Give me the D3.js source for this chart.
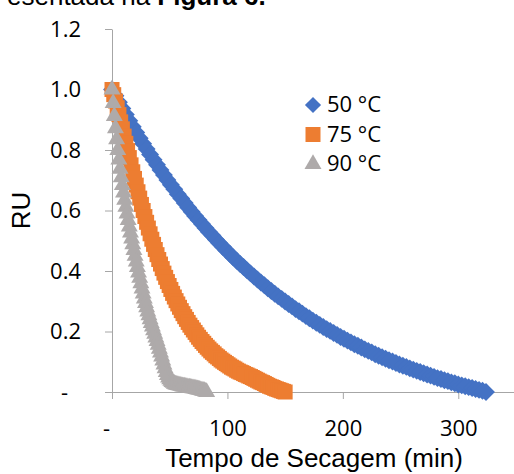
<!DOCTYPE html>
<html>
<head>
<meta charset="utf-8">
<script src="https://cdn.jsdelivr.net/npm/d3@7"></script>
<style>
  body { margin: 0; background: #fff; }
  svg { display: block; }
</style>
</head>
<body>
<svg width="514" height="474"></svg>
<script>
// RU vs drying time
const series = ['50 °C', '75 °C', '90 °C'];
const colors = ['#4472C4', '#ED7D31', '#AEAAAA'];
const steps = [3, 1.5, 1];   // minutes between readings

const ru50 = [
  1.000,0.979,0.958,0.937,0.917,0.897,0.877,0.858,0.839,0.821,
  0.803,0.785,0.768,0.751,0.734,0.717,0.701,0.685,0.670,0.654,
  0.640,0.625,0.610,0.596,0.582,0.569,0.555,0.542,0.529,0.517,
  0.504,0.492,0.480,0.468,0.457,0.445,0.434,0.423,0.413,0.402,
  0.392,0.382,0.372,0.362,0.353,0.343,0.334,0.325,0.316,0.308,
  0.299,0.291,0.283,0.274,0.267,0.259,0.251,0.244,0.236,0.229,
  0.222,0.215,0.208,0.202,0.195,0.189,0.182,0.176,0.170,0.164,
  0.158,0.153,0.147,0.141,0.136,0.131,0.125,0.120,0.115,0.110,
  0.105,0.101,0.096,0.091,0.087,0.083,0.078,0.074,0.070,0.066,
  0.062,0.058,0.054,0.050,0.046,0.043,0.039,0.036,0.032,0.029,
  0.025,0.022,0.019,0.016,0.013,0.010,0.007,0.004,0.000
];
const ru75 = [
  1.000,0.983,0.962,0.940,0.917,0.893,0.870,0.846,0.822,0.798,
  0.775,0.751,0.728,0.706,0.684,0.662,0.641,0.620,0.600,0.580,
  0.561,0.542,0.523,0.505,0.488,0.471,0.454,0.438,0.423,0.408,
  0.393,0.379,0.365,0.352,0.339,0.326,0.314,0.302,0.291,0.280,
  0.269,0.259,0.249,0.240,0.230,0.221,0.213,0.205,0.197,0.189,
  0.181,0.174,0.167,0.161,0.154,0.148,0.142,0.136,0.131,0.126,
  0.120,0.116,0.111,0.106,0.102,0.098,0.094,0.090,0.086,0.082,
  0.079,0.076,0.072,0.069,0.066,0.064,0.061,0.058,0.056,0.053,
  0.051,0.048,0.045,0.042,0.039,0.036,0.033,0.031,0.028,0.025,
  0.022,0.019,0.017,0.015,0.012,0.010,0.008,0.006,0.004,0.002,
  0.000
];
const ru90 = [
  1.000,0.955,0.912,0.872,0.835,0.800,0.768,0.738,0.710,0.684,
  0.659,0.635,0.612,0.590,0.568,0.547,0.527,0.507,0.488,0.469,
  0.450,0.431,0.413,0.395,0.377,0.359,0.342,0.325,0.309,0.294,
  0.280,0.266,0.253,0.240,0.228,0.216,0.204,0.192,0.180,0.168,
  0.156,0.143,0.130,0.117,0.104,0.091,0.078,0.066,0.056,0.048,
  0.042,0.037,0.033,0.030,0.027,0.025,0.024,0.023,0.022,0.021,
  0.020,0.019,0.018,0.018,0.017,0.016,0.015,0.015,0.014,0.013,
  0.012,0.012,0.011,0.010,0.009,0.008,0.007,0.006,0.005,0.004,
  0.003,0.001,0.000
];

const xTicks = [0, 100, 200, 300];
const yTicks = [0, 0.2, 0.4, 0.6, 0.8, 1.0, 1.2];

const svg = d3.select('svg');
const axisColor = '#A6A6A6';
const labelFont = '"Open Sans", sans-serif';
const titleFont = '"Liberation Sans", Arial, sans-serif';

const x = d3.scaleLinear().domain([0, 350]).range([112, 516]);
const y = d3.scaleLinear().domain([0, 1.2]).range([392, 29]);

// cut-off caption line from the page above the chart
const cap = svg.append('text')
  .attr('x', 7).attr('y', 5)
  .style('font-family', titleFont).style('font-size', '26px');
cap.append('tspan').text('esentada na ');
cap.append('tspan').style('font-weight', 'bold').text('Figura 6.');

const fmt = d => d === 0 ? '-' : d3.format('.1f')(d);

const gx = svg.append('g')
  .attr('transform', `translate(0,${y(0)})`)
  .call(d3.axisBottom(x).tickValues(xTicks).tickSize(7).tickSizeOuter(0)
    .tickFormat(d => d === 0 ? '-' : d));
const gy = svg.append('g')
  .attr('transform', `translate(${x(0)},0)`)
  .call(d3.axisLeft(y).tickValues(yTicks).tickSize(7).tickPadding(24).tickSizeOuter(0)
    .tickFormat(fmt));

[gx, gy].forEach(g => {
  g.select('.domain').attr('stroke', axisColor);
  g.selectAll('.tick line').attr('stroke', axisColor);
  g.selectAll('text').attr('fill', '#000')
    .style('font-family', labelFont).style('font-size', '22px');
});
gx.selectAll('.tick text').attr('y', 28).attr('dy', '0.71em')
  .attr('dx', d => d === 0 ? -6 : 0);
gy.selectAll('.tick text').attr('dx', d => d === 0 ? -13 : 0);

// axis titles
svg.append('text')
  .attr('x', (x.range()[0] + x.range()[1]) / 2).attr('y', 467)
  .attr('text-anchor', 'middle')
  .style('font-family', titleFont).style('font-size', '26px')
  .text('Tempo de Secagem (min)');
svg.append('text')
  .attr('transform', `translate(30,${(y.range()[0] + y.range()[1]) / 2}) rotate(-90)`)
  .attr('text-anchor', 'middle')
  .style('font-family', titleFont).style('font-size', '26px')
  .text('RU');

// markers
const shapes = [
  d3.symbol().type(d3.symbolSquare).size(160),   // rotated below -> diamond
  d3.symbol().type(d3.symbolSquare).size(225),
  d3.symbol().type(d3.symbolTriangle).size(125)
];
const rot = [45, 0, 0];
const data = [ru50, ru75, ru90];

data.forEach((vals, s) => {
  svg.append('g')
    .selectAll('path')
    .data(vals)
    .join('path')
    .attr('d', shapes[s]())
    .attr('fill', colors[s])
    .attr('transform', (d, i) => `translate(${x(i * steps[s])},${y(d)}) rotate(${rot[s]})`);
});

// legend
const leg = svg.append('g');
series.forEach((name, s) => {
  const cy = 105 + s * 29.5;
  leg.append('path')
    .attr('d', shapes[s]())
    .attr('fill', colors[s])
    .attr('transform', `translate(313,${cy}) rotate(${rot[s]}) scale(${s === 0 ? 0.9 : 1})`);
  leg.append('text')
    .attr('x', 327).attr('y', cy).attr('dy', '0.34em')
    .style('font-family', labelFont).style('font-size', '22px')
    .text(name);
});
</script>
</body>
</html>
